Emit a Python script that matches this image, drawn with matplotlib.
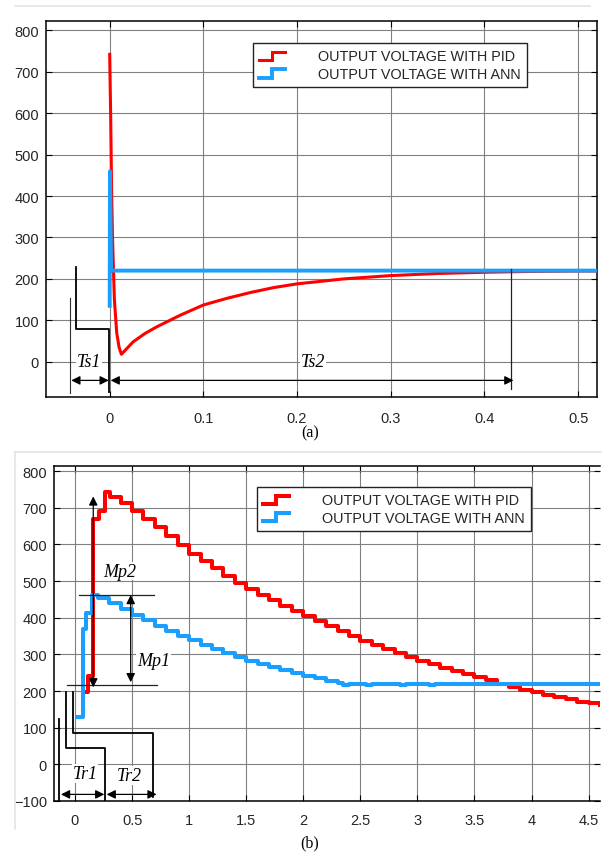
import matplotlib
matplotlib.use('Agg')
import matplotlib.pyplot as plt
from matplotlib.lines import Line2D
from matplotlib.legend_handler import HandlerBase

# ---- data (a): settling, time in s, voltage in V ----
pid_a_t = [0.0, 0.001, 0.002, 0.003, 0.005, 0.0075, 0.010, 0.0125, 0.025, 0.0375,
           0.05, 0.075, 0.10, 0.125, 0.15, 0.175, 0.20, 0.25, 0.30, 0.35, 0.40,
           0.45, 0.50, 0.52]
pid_a_v = [742, 600, 420, 300, 150, 70, 35, 18, 48, 68,
           84, 112, 137, 153, 167, 179, 188, 200, 208, 213, 216,
           218, 219, 219]
ann_a_t = [0.0, 0.0003, 0.0015, 0.52]
ann_a_v = [135, 460, 220, 220]

# ---- data (b): rise / overshoot ----
pid_b_t = [0.085, 0.11, 0.16, 0.21, 0.26, 0.31, 0.4, 0.5, 0.6, 0.7, 0.8, 0.9, 1.0,
           1.1, 1.2, 1.3, 1.4, 1.5, 1.6, 1.7, 1.8, 1.9, 2.0, 2.1, 2.2, 2.3, 2.4,
           2.5, 2.6, 2.7, 2.8, 2.9, 3.0, 3.1, 3.2, 3.3, 3.4, 3.5, 3.6, 3.7, 3.8,
           3.9, 4.0, 4.1, 4.2, 4.3, 4.4, 4.5, 4.6]
pid_b_v = [196, 240, 668, 690, 742, 730, 712, 692, 670, 648, 622, 598, 575,
           555, 535, 515, 496, 478, 462, 447, 432, 418, 405, 391, 377, 363, 350,
           337, 326, 315, 304, 293, 283, 274, 264, 255, 246, 237, 229, 220, 212,
           204, 196, 190, 183, 177, 171, 166, 161]
ann_b_t = [0.015, 0.07, 0.10, 0.15, 0.2, 0.3, 0.4, 0.5, 0.6, 0.7, 0.8, 0.9, 1.0,
           1.1, 1.2, 1.3, 1.4, 1.5, 1.6, 1.7, 1.8, 1.9, 2.0, 2.1, 2.2, 2.3,
           2.35, 2.4, 2.55, 2.6, 2.85, 2.9, 3.1, 3.15, 4.6]
ann_b_v = [130, 370, 414, 462, 455, 440, 423, 408, 393, 378, 364, 350, 338,
           326, 315, 304, 293, 283, 274, 265, 257, 249, 242, 235, 228, 222,
           216, 219, 216, 219, 216, 219, 216, 219, 219]

labels = ['OUTPUT VOLTAGE WITH PID', 'OUTPUT VOLTAGE WITH ANN']
xticks_a = [0, 0.1, 0.2, 0.3, 0.4, 0.5]
xlabels_a = ['0', '0.1', '0.2', '0.3', '0.4', '0.5']
yticks_a = [0, 100, 200, 300, 400, 500, 600, 700, 800]
xticks_b = [0, 0.5, 1, 1.5, 2, 2.5, 3, 3.5, 4, 4.5]
xlabels_b = ['0', '0.5', '1', '1.5', '2', '2.5', '3', '3.5', '4', '4.5']
yticks_b = [-100, 0, 100, 200, 300, 400, 500, 600, 700, 800]

RED = '#ff0000'
BLUE = '#1a9fff'

plt.rcParams['font.family'] = ['Liberation Sans', 'DejaVu Sans']


class StepHandler(HandlerBase):
    def create_artists(self, legend, orig_handle, xdescent, ydescent,
                       width, height, fontsize, trans):
        x0 = -xdescent
        xm = x0 + width * 0.5
        x1 = x0 + width
        ylo = -ydescent + height * 0.05
        yhi = -ydescent + height * 0.85
        ln = Line2D([x0, xm, xm, x1], [ylo, ylo, yhi, yhi],
                    color=orig_handle.get_color(), lw=orig_handle.get_linewidth(),
                    solid_joinstyle='miter', transform=trans)
        return [ln]


def style_axes(ax, xlim, ylim, xt, xl, yt, xpad):
    ax.set_xlim(xlim)
    ax.set_ylim(ylim)
    ax.set_xticks(xt)
    ax.set_xticklabels(xl)
    ax.set_yticks(yt)
    ax.grid(True, color='#808080', lw=0.8)
    ax.set_axisbelow(True)
    ax.tick_params(direction='in', length=4, width=0.8, top=True, right=True,
                   labelsize=10.5, labelcolor='#262626')
    ax.tick_params(axis='x', pad=xpad)
    ax.tick_params(axis='y', pad=5)
    for s in ax.spines.values():
        s.set_linewidth(1.1)
        s.set_color('black')


def add_legend(ax, handles, anchor):
    lg = ax.legend(handles, labels, loc='upper left', bbox_to_anchor=anchor,
                   borderaxespad=0, fontsize=10.4, handler_map={Line2D: StepHandler()},
                   handlelength=1.8, handletextpad=2.3, labelspacing=0.25,
                   borderpad=0.42, fancybox=False, framealpha=1, edgecolor='#222222')
    lg.get_frame().set_linewidth(1.0)
    for t in lg.get_texts():
        t.set_color('#262626')
    return lg


fig = plt.figure(figsize=(6.02, 8.54), dpi=100)

# screenshot frame remnants
fig.add_artist(Line2D([0.025, 0.98], [0.992, 0.992], color='#e4e4e4', lw=1.2,
                      transform=fig.transFigure))
fig.add_artist(Line2D([0.025, 1.0], [0.470, 0.470], color='#e4e4e4', lw=1.2,
                      transform=fig.transFigure))
fig.add_artist(Line2D([0.025, 0.025], [0.470, 0.028], color='#e4e4e4', lw=1.2,
                      transform=fig.transFigure))

serif = ['Liberation Serif', 'DejaVu Serif']
tbox = dict(fc='white', ec='none', pad=0.5)
arrow = dict(arrowstyle='<|-|>', color='black', lw=0.9, mutation_scale=13,
             shrinkA=0, shrinkB=0)

# ---------------- (a) ----------------
ax1 = fig.add_axes([0.0764, 0.534, 0.915, 0.440])
h1, = ax1.plot(pid_a_t, pid_a_v, color=RED, lw=2.2, zorder=3)
h2, = ax1.plot(ann_a_t, ann_a_v, color=BLUE, lw=2.8, zorder=4)
style_axes(ax1, (-0.068, 0.52), (-85, 822), xticks_a, xlabels_a, yticks_a, 10)
add_legend(ax1, [h1, h2], (0.376, 0.941))

# annotation marks (a)
ax1.plot([-0.0428, -0.0428], [154, -75], color='#333333', lw=0.8, zorder=5)
ax1.plot([-0.036, -0.036, -0.0007, -0.0007], [229, 80, 80, -72], color='black',
         lw=1.3, zorder=5)
ax1.plot([0.428, 0.428], [224, -65], color='#222222', lw=0.9, zorder=5)
ax1.annotate('', xy=(-0.041, -45), xytext=(-0.001, -45), arrowprops=arrow, zorder=6)
ax1.annotate('', xy=(0.001, -45), xytext=(0.431, -45), arrowprops=arrow, zorder=6)
ax1.text(-0.022, 0, 'Ts1', family=serif, style='italic', fontsize=13,
         ha='center', va='center', bbox=tbox, zorder=6)
ax1.text(0.217, 0, 'Ts2', family=serif, style='italic', fontsize=13,
         ha='center', va='center', bbox=tbox, zorder=6)

fig.text(0.515, 0.493, '(a)', family=serif, fontsize=11.5, ha='center', va='center')

# ---------------- (b) ----------------
ax2 = fig.add_axes([0.0897, 0.0609, 0.907, 0.3923])
g1, = ax2.plot(pid_b_t, pid_b_v, color=RED, lw=2.9, drawstyle='steps-post', zorder=3)
g2, = ax2.plot(ann_b_t, ann_b_v, color=BLUE, lw=2.9, drawstyle='steps-post', zorder=4)
style_axes(ax2, (-0.184, 4.60), (-100, 814), xticks_b, xlabels_b, yticks_b, 9)
ax2.spines['right'].set_visible(False)
add_legend(ax2, [g1, g2], (0.371, 0.937))

# annotation marks (b)
ax2.plot([-0.067, 0.72], [217, 217], color='#222222', lw=0.9, zorder=5)
ax2.plot([0.038, 0.69], [463, 463], color='#222222', lw=0.9, zorder=5)
ax2.annotate('', xy=(0.16, 731), xytext=(0.16, 210), arrowprops=arrow, zorder=6)
ax2.annotate('', xy=(0.488, 462), xytext=(0.488, 224), arrowprops=arrow, zorder=6)
ax2.plot([-0.137, -0.137], [124, -100], color='black', lw=1.3, zorder=5)
ax2.plot([-0.079, -0.079, 0.263, 0.263], [196, 45, 45, -100], color='black',
         lw=1.3, zorder=5)
ax2.plot([-0.020, -0.020, 0.680, 0.680], [196, 85, 85, -89], color='black',
         lw=1.3, zorder=5)
ax2.annotate('', xy=(-0.123, -82), xytext=(0.257, -82), arrowprops=arrow, zorder=6)
ax2.annotate('', xy=(0.277, -82), xytext=(0.715, -82), arrowprops=arrow, zorder=6)
for txt, tx, ty in [('Mp2', 0.394, 527), ('Mp1', 0.686, 283),
                    ('Tr1', 0.088, -25), ('Tr2', 0.48, -30)]:
    ax2.text(tx, ty, txt, family=serif, style='italic', fontsize=13,
             ha='center', va='center', bbox=tbox, zorder=6)

fig.text(0.515, 0.013, '(b)', family=serif, fontsize=11.5, ha='center', va='center')

fig.savefig('out.png', dpi=100)
